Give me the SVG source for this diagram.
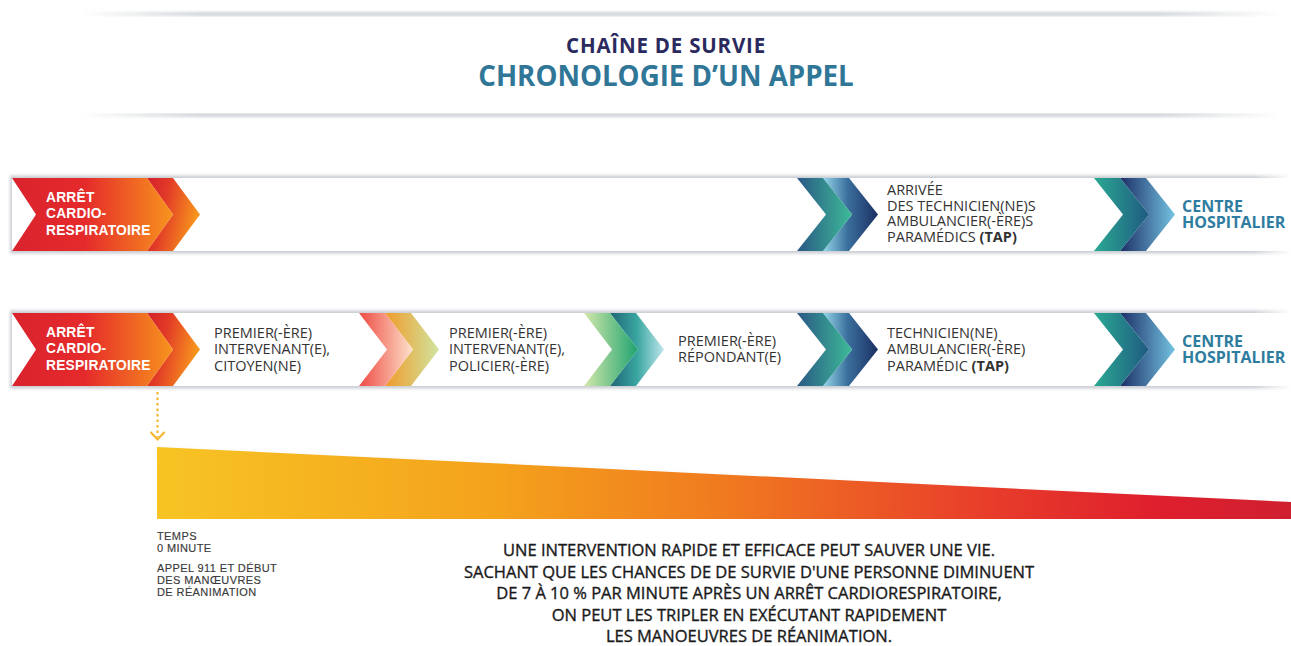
<svg xmlns="http://www.w3.org/2000/svg" width="1291" height="646" viewBox="0 0 1291 646">
<defs>
<style>
.t{font-family:"Open Sans","Liberation Sans",sans-serif;font-size:14.5px;fill:#333}
.w{font-family:"Liberation Sans",Arial,sans-serif;font-weight:bold;font-size:13.8px;fill:#fff;letter-spacing:0.2px}
.h{font-family:"Open Sans","Liberation Sans",sans-serif;font-weight:bold;font-size:16px;fill:#2e7ca0}
.s{font-family:"Liberation Sans",Arial,sans-serif;font-size:11px;fill:#3a3a3a;letter-spacing:0.4px;stroke:#3a3a3a;stroke-width:0.15px}
.p{font-family:"Open Sans","Liberation Sans",sans-serif;font-size:16.5px;fill:#1a1a1a;text-anchor:middle;stroke:#1a1a1a;stroke-width:0.35px}
</style>
<filter id="blur" x="-5%" y="-50%" width="110%" height="200%"><feGaussianBlur stdDeviation="1.6"/></filter>
<filter id="blur3" x="-5%" y="-50%" width="110%" height="200%"><feGaussianBlur stdDeviation="3"/></filter>
<linearGradient id="fade" x1="0" x2="1" y1="0" y2="0">
<stop offset="0" stop-color="#cfd3d8" stop-opacity="0"/><stop offset="0.1" stop-color="#cfd3d8"/><stop offset="0.9" stop-color="#cfd3d8"/><stop offset="1" stop-color="#cfd3d8" stop-opacity="0"/>
</linearGradient>
<linearGradient id="bandsh" x1="0" x2="1" y1="0" y2="0">
<stop offset="0" stop-color="#c9cdd2"/><stop offset="0.97" stop-color="#c9cdd2"/><stop offset="1" stop-color="#c9cdd2" stop-opacity="0"/>
</linearGradient>
<linearGradient id="red1" gradientUnits="userSpaceOnUse" x1="12" x2="173" y1="0" y2="0">
<stop offset="0" stop-color="#d9232d"/><stop offset="0.45" stop-color="#e52a2b"/><stop offset="1" stop-color="#f7941d"/>
</linearGradient>
<linearGradient id="red2" x1="0" x2="1" y1="0" y2="0.3">
<stop offset="0" stop-color="#d2202c"/><stop offset="0.4" stop-color="#e23a27"/><stop offset="1" stop-color="#f7941d"/>
</linearGradient>
<linearGradient id="b1" x1="0" x2="1" y1="0" y2="0"><stop offset="0" stop-color="#2a5885"/><stop offset="1" stop-color="#3dbb98"/></linearGradient>
<linearGradient id="b2" x1="0" x2="1" y1="0" y2="0"><stop offset="0" stop-color="#95d6ea"/><stop offset="0.45" stop-color="#3a6f9c"/><stop offset="1" stop-color="#1b2f63"/></linearGradient>
<linearGradient id="h1" x1="0" x2="1" y1="0" y2="0"><stop offset="0" stop-color="#2aa993"/><stop offset="1" stop-color="#1f5a80"/></linearGradient>
<linearGradient id="h2" x1="0" x2="1" y1="0" y2="0"><stop offset="0" stop-color="#1c2e66"/><stop offset="1" stop-color="#74c3e2"/></linearGradient>
<linearGradient id="p1" x1="0" x2="1" y1="0" y2="0"><stop offset="0" stop-color="#ee4b43"/><stop offset="1" stop-color="#fde3cc"/></linearGradient>
<linearGradient id="p2" x1="0" x2="1" y1="0" y2="0"><stop offset="0" stop-color="#f09b2a"/><stop offset="1" stop-color="#d0e4a0"/></linearGradient>
<linearGradient id="g1" x1="0" x2="1" y1="0" y2="0"><stop offset="0" stop-color="#d3e8aa"/><stop offset="1" stop-color="#1fa370"/></linearGradient>
<linearGradient id="g2" x1="0" x2="1" y1="0" y2="0"><stop offset="0" stop-color="#1e6577"/><stop offset="0.5" stop-color="#3aa6a0"/><stop offset="1" stop-color="#bfe6ec"/></linearGradient>
<linearGradient id="wedge" gradientUnits="userSpaceOnUse" x1="157" x2="1291" y1="0" y2="0">
<stop offset="0" stop-color="#f7c424"/><stop offset="0.3" stop-color="#f4a21c"/><stop offset="0.5" stop-color="#f07a1f"/><stop offset="0.72" stop-color="#e8402a"/><stop offset="0.88" stop-color="#df1f2d"/><stop offset="1" stop-color="#cf2030"/>
</linearGradient>
</defs>
<rect width="1291" height="646" fill="#fff"/>

<g id="title">
<rect x="80" y="12" width="1200" height="4" fill="url(#fade)" filter="url(#blur)"/>
<rect x="80" y="113" width="1200" height="4" fill="url(#fade)" filter="url(#blur)"/>
<rect x="80" y="17" width="1200" height="96" fill="#fff"/>
<text x="666" y="53" text-anchor="middle" font-family="'Open Sans','Liberation Sans',sans-serif" font-weight="bold" font-size="20.5" letter-spacing="0.8" fill="#2b2a5e">CHAÎNE DE SURVIE</text>
<text x="666" y="86" text-anchor="middle" font-family="'Open Sans','Liberation Sans',sans-serif" font-weight="bold" font-size="27.7" fill="#2f7697">CHRONOLOGIE D’UN APPEL</text>
</g>

<g id="bands">
<rect x="10" y="175.5" width="1281" height="78" fill="url(#bandsh)" filter="url(#blur)"/>
<rect x="12" y="178" width="1279" height="73" fill="#fff"/>
<rect x="10" y="310.5" width="1281" height="78" fill="url(#bandsh)" filter="url(#blur)"/>
<rect x="12" y="313" width="1279" height="73" fill="#fff"/>
</g>

<g id="row1-arret">
<polygon points="147,178 173,178 200,214.5 173,251 147,251 173,214.5" fill="url(#red2)"/>
<polygon points="12,178 147,178 173,214.5 147,251 12,251 36,214.5" fill="url(#red1)"/>
<text class="w" x="46" y="202">ARRÊT</text>
<text class="w" x="46" y="218">CARDIO-</text>
<text class="w" x="46" y="234.5">RESPIRATOIRE</text>
</g>

<g id="row1-tap">
<polygon points="823,178 849,178 878,214.5 849,251 823,251 852,214.5" fill="url(#b2)"/>
<polygon points="797,178 823,178 852,214.5 823,251 797,251 826,214.5" fill="url(#b1)"/>
<text class="t" x="887" y="195">ARRIVÉE</text>
<text class="t" x="887" y="210.5">DES TECHNICIEN(NE)S</text>
<text class="t" x="887" y="226">AMBULANCIER(-ÈRE)S</text>
<text class="t" x="887" y="241.5">PARAMÉDICS <tspan font-weight="bold">(TAP)</tspan></text>
</g>

<g id="row1-hospital">
<polygon points="1120,178 1146,178 1175,214.5 1146,251 1120,251 1149,214.5" fill="url(#h2)"/>
<polygon points="1094,178 1120,178 1149,214.5 1120,251 1094,251 1123,214.5" fill="url(#h1)"/>
<text class="h" x="1182" y="212">CENTRE</text>
<text class="h" x="1182" y="228">HOSPITALIER</text>
</g>

<g id="row2-arret">
<polygon points="147,313 173,313 200,349.5 173,386 147,386 173,349.5" fill="url(#red2)"/>
<polygon points="12,313 147,313 173,349.5 147,386 12,386 36,349.5" fill="url(#red1)"/>
<text class="w" x="46" y="337">ARRÊT</text>
<text class="w" x="46" y="353">CARDIO-</text>
<text class="w" x="46" y="369.5">RESPIRATOIRE</text>
</g>

<g id="row2-citoyen">
<text class="t" x="214" y="337.5">PREMIER(-ÈRE)</text>
<text class="t" x="214" y="354">INTERVENANT(E),</text>
<text class="t" x="214" y="370.5">CITOYEN(NE)</text>
</g>

<g id="row2-policier">
<polygon points="385,313 411,313 439,349.5 411,386 385,386 413,349.5" fill="url(#p2)"/>
<polygon points="359,313 385,313 413,349.5 385,386 359,386 387,349.5" fill="url(#p1)"/>
<text class="t" x="449" y="337.5">PREMIER(-ÈRE)</text>
<text class="t" x="449" y="354">INTERVENANT(E),</text>
<text class="t" x="449" y="370.5">POLICIER(-ÈRE)</text>
</g>

<g id="row2-repondant">
<polygon points="610,313 636,313 664,349.5 636,386 610,386 638,349.5" fill="url(#g2)"/>
<polygon points="584,313 610,313 638,349.5 610,386 584,386 612,349.5" fill="url(#g1)"/>
<text class="t" x="678" y="346">PREMIER(-ÈRE)</text>
<text class="t" x="678" y="362">RÉPONDANT(E)</text>
</g>

<g id="row2-tap">
<polygon points="823,313 849,313 878,349.5 849,386 823,386 852,349.5" fill="url(#b2)"/>
<polygon points="797,313 823,313 852,349.5 823,386 797,386 826,349.5" fill="url(#b1)"/>
<text class="t" x="887" y="337.5">TECHNICIEN(NE)</text>
<text class="t" x="887" y="354">AMBULANCIER(-ÈRE)</text>
<text class="t" x="887" y="370.5">PARAMÉDIC <tspan font-weight="bold">(TAP)</tspan></text>
</g>

<g id="row2-hospital">
<polygon points="1120,313 1146,313 1175,349.5 1146,386 1120,386 1149,349.5" fill="url(#h2)"/>
<polygon points="1094,313 1120,313 1149,349.5 1120,386 1094,386 1123,349.5" fill="url(#h1)"/>
<text class="h" x="1182" y="347">CENTRE</text>
<text class="h" x="1182" y="363">HOSPITALIER</text>
</g>

<g id="connectors">
<line x1="157.5" y1="392" x2="157.5" y2="437" stroke="#f4b731" stroke-width="2.2" stroke-dasharray="2.5,3"/>
<polyline points="150.5,432 157.5,439.5 164.5,432" fill="none" stroke="#f4b731" stroke-width="2.2"/>
</g>

<g id="timeline">
<polygon points="157,450 1291,505 1291,512 157,457" fill="#d9dce0" opacity="0.6" filter="url(#blur3)"/>
<polygon points="157,447 1291,502 1291,519 157,519" fill="url(#wedge)"/>
<text class="s" x="157" y="540">TEMPS</text>
<text class="s" x="157" y="552">0 MINUTE</text>
<text class="s" x="157" y="572">APPEL 911 ET DÉBUT</text>
<text class="s" x="157" y="584">DES MANŒUVRES</text>
<text class="s" x="157" y="596">DE RÉANIMATION</text>
</g>

<g id="message">
<text class="p" x="749" y="556">UNE INTERVENTION RAPIDE ET EFFICACE PEUT SAUVER UNE VIE.</text>
<text class="p" x="749" y="577.5">SACHANT QUE LES CHANCES DE DE SURVIE D'UNE PERSONNE DIMINUENT</text>
<text class="p" x="749" y="599">DE 7 À 10 % PAR MINUTE APRÈS UN ARRÊT CARDIORESPIRATOIRE,</text>
<text class="p" x="749" y="620.5">ON PEUT LES TRIPLER EN EXÉCUTANT RAPIDEMENT</text>
<text class="p" x="749" y="642">LES MANOEUVRES DE RÉANIMATION.</text>
</g>
</svg>
